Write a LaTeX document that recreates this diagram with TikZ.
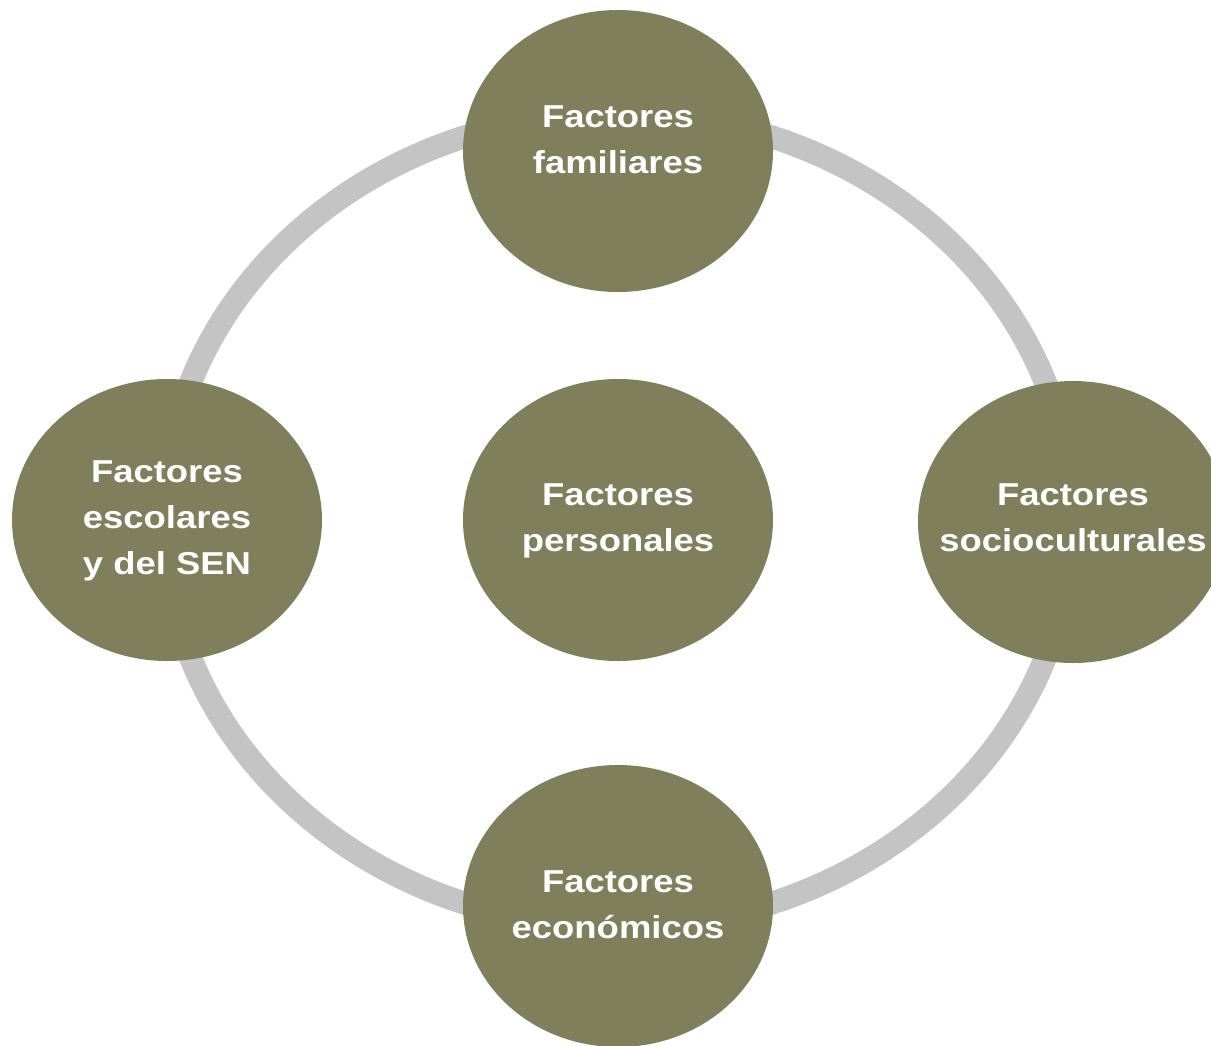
\documentclass[tikz,border=0pt]{standalone}
\usepackage{fontspec}
\setmainfont{Liberation Sans}
\usepackage{graphicx}
\usetikzlibrary{shapes.geometric}
\definecolor{factorfill}{HTML}{7F7F5B}
\definecolor{ringgray}{HTML}{C4C4C4}
\newcommand{\widetxt}[1]{\scalebox{1.15}[1]{\begin{tabular}{@{}c@{}}#1\end{tabular}}}
\begin{document}
\begin{tikzpicture}[x=1pt,y=-1pt,
  factor/.style={ellipse, fill=factorfill, draw=none, minimum width=310pt, minimum height=282pt, inner sep=0pt},
  ftext/.style={text=white, inner sep=0pt, font=\fontsize{31.7}{46}\selectfont\bfseries},
  ringline/.style={draw=ringgray, line width=23pt}]
\useasboundingbox (0,0) rectangle (1211,1045);
\fill[white] (0,0) rectangle (1211,1045);
\coordinate (ringc) at (618,520);
\draw[ringline] (ringc) ellipse [x radius=454pt, y radius=407pt];
\node[factor] (top) at (618,151) {};
\node[factor] (left) at (167,520) {};
\node[factor] (mid) at (618,520) {};
\node[factor] (right) at (1073,522) {};
\node[factor] (bottom) at (618,906) {};
\node[ftext] (ttop) at (618,141) {\widetxt{Factores\\familiares}};
\node[ftext] (tleft) at (167,519) {\widetxt{Factores\\escolares\\y del SEN}};
\node[ftext] (tmid) at (618,519) {\widetxt{Factores\\personales}};
\node[ftext] (tright) at (1073,519) {\widetxt{Factores\\socioculturales}};
\node[ftext] (tbottom) at (618,906) {\widetxt{Factores\\económicos}};
\end{tikzpicture}
\end{document}
